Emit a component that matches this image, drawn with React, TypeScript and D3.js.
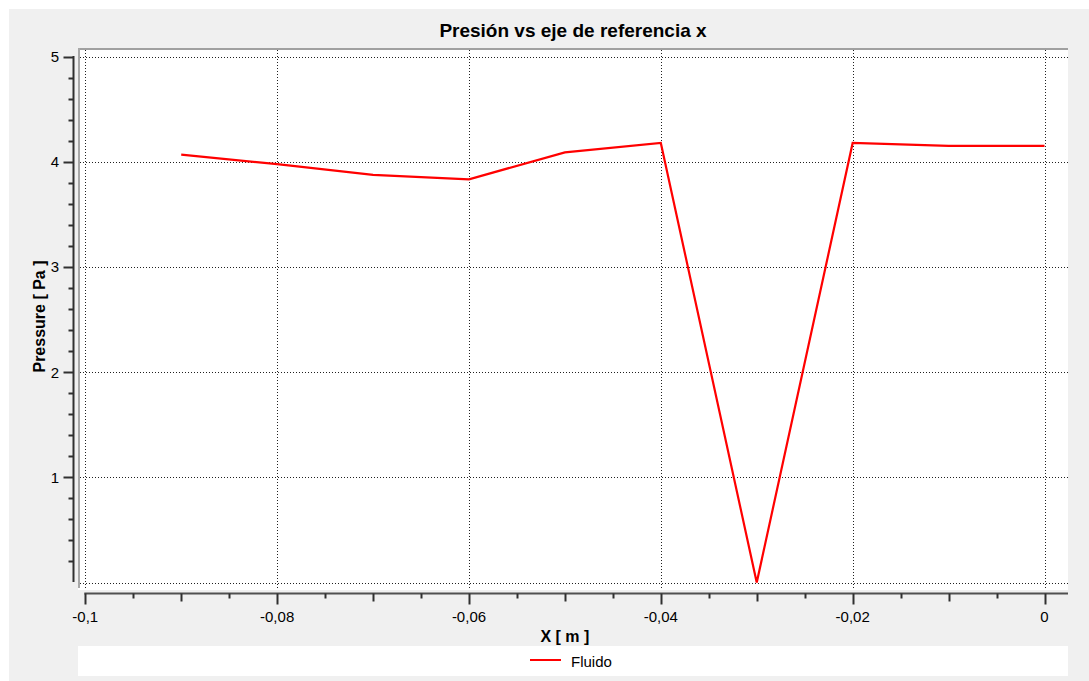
import React from "react";
import * as d3 from "d3";

const xValues = [-0.09, -0.08, -0.07, -0.06, -0.05, -0.04, -0.03, -0.02, -0.01, 0];
const pressure = [4.067, 3.977, 3.875, 3.833, 4.089, 4.178, 0.0, 4.178, 4.15, 4.15];
const xMajorTicks = [-0.1, -0.08, -0.06, -0.04, -0.02, 0];
const xTickLabels = ["-0,1", "-0,08", "-0,06", "-0,04", "-0,02", "0"];
const yMajorTicks = [1, 2, 3, 4, 5];
const yTickLabels = ["1", "2", "3", "4", "5"];
const yGridValues = [0, 1, 2, 3, 4, 5];
const seriesName = "Fluido";
const title = "Presión vs eje de referencia x";
const xLabel = "X [ m ]";
const yLabel = "Pressure [ Pa ]";

const W = 1089;
const H = 681;
const font = "Arial, 'Liberation Sans', sans-serif";

export default function App() {
  const x = d3.scaleLinear().domain([-0.1, 0]).range([85.3, 1044.5]);
  const y = d3.scaleLinear().domain([0, 5]).range([582.5, 56.5]);

  const plotL = 78, plotR = 1068, plotT = 48, plotB = 590;
  const axisY = 593.5;
  const axisX = 73.5;

  const xMinor = d3.range(0, 21).map((i) => -0.1 + i * 0.005);
  const yMinor = d3.range(1, 25).map((i) => i * 0.2);

  const line = d3
    .line<number>()
    .x((_, i) => x(xValues[i]))
    .y((d) => y(d));

  return (
    <svg
      width={W}
      height={H}
      style={{ position: "absolute", left: 0, top: 0 }}
      fontFamily={font}
    >
      <rect x={0} y={0} width={W} height={H} fill="#ffffff" />
      <rect x={9} y={9} width={W - 9} height={H - 9} fill="#f0f0f0" />
      {/* plot area */}
      <rect x={plotL} y={plotT} width={plotR - plotL} height={plotB - plotT} fill="#ffffff" />
      {/* frame */}
      <line x1={plotL} x2={plotR} y1={plotT + 1} y2={plotT + 1} stroke="#a0a0a0" strokeWidth={2} />
      <line x1={plotL + 1} x2={plotL + 1} y1={plotT} y2={588} stroke="#a8a8a8" strokeWidth={2} />

      {/* grid */}
      {yGridValues.map((v) => (
        <line
          key={"hg" + v}
          x1={80}
          x2={plotR}
          y1={Math.round(y(v)) + 0.5}
          y2={Math.round(y(v)) + 0.5}
          stroke="#202020"
          strokeWidth={1}
          strokeDasharray="1 2"
        />
      ))}
      {xMajorTicks.map((v) => (
        <line
          key={"vg" + v}
          x1={Math.round(x(v)) + 0.5}
          x2={Math.round(x(v)) + 0.5}
          y1={50}
          y2={588}
          stroke="#202020"
          strokeWidth={1}
          strokeDasharray="1 2"
        />
      ))}

      {/* data line */}
      <path d={line(pressure) || ""} fill="none" stroke="#ff0000" strokeWidth={2.2} strokeLinejoin="miter" />

      {/* x axis */}
      <line x1={x(-0.1) - 1} x2={plotR} y1={axisY} y2={axisY} stroke="#505050" strokeWidth={2} />
      {xMinor.map((v, i) => {
        const len = i % 4 === 0 ? 11 : i % 2 === 0 ? 8 : 5;
        const px = Math.round(x(v)) + 0.5;
        return (
          <line key={"xt" + i} x1={px} x2={px} y1={axisY} y2={axisY + len} stroke="#303030" strokeWidth={2} />
        );
      })}
      {xMajorTicks.map((v, i) => (
        <text key={"xl" + v} x={x(v)} y={622} fontSize={15} textAnchor="middle" fill="#000">
          {xTickLabels[i]}
        </text>
      ))}
      <text x={(x(-0.1) + x(0)) / 2} y={642} fontSize={16} fontWeight="bold" textAnchor="middle" fill="#000">
        {xLabel}
      </text>

      {/* y axis */}
      <line x1={axisX} x2={axisX} y1={y(5) - 0.5} y2={y(0) - 0.5} stroke="#303030" strokeWidth={2} />
      {yMinor.map((v, i) => {
        const isMajor = Math.abs(v - Math.round(v)) < 1e-6;
        const py = Math.round(y(v)) + 0.5;
        return (
          <line
            key={"yt" + i}
            x1={axisX - (isMajor ? 10 : 5)}
            x2={axisX}
            y1={py}
            y2={py}
            stroke="#303030"
            strokeWidth={2}
          />
        );
      })}
      <line x1={axisX - 10} x2={axisX} y1={Math.round(y(5)) + 0.5} y2={Math.round(y(5)) + 0.5} stroke="#303030" strokeWidth={2} />
      {yMajorTicks.map((v, i) => (
        <text key={"yl" + v} x={59} y={y(v) + 5.5} fontSize={15} textAnchor="end" fill="#000">
          {yTickLabels[i]}
        </text>
      ))}
      <text
        transform={`translate(45, ${(y(0) + y(5)) / 2 - 3}) rotate(-90)`}
        fontSize={16}
        fontWeight="bold"
        textAnchor="middle"
        fill="#000"
      >
        {yLabel}
      </text>

      {/* title */}
      <text x={(plotL + plotR) / 2} y={37} fontSize={19} fontWeight="bold" textAnchor="middle" fill="#000">
        {title}
      </text>

      {/* legend */}
      <rect x={plotL} y={646} width={plotR - plotL} height={30} fill="#ffffff" />
      <line x1={530} x2={561} y1={660} y2={660} stroke="#ff0000" strokeWidth={2} />
      <text x={571} y={666.5} fontSize={15} fill="#000">
        {seriesName}
      </text>
    </svg>
  );
}
